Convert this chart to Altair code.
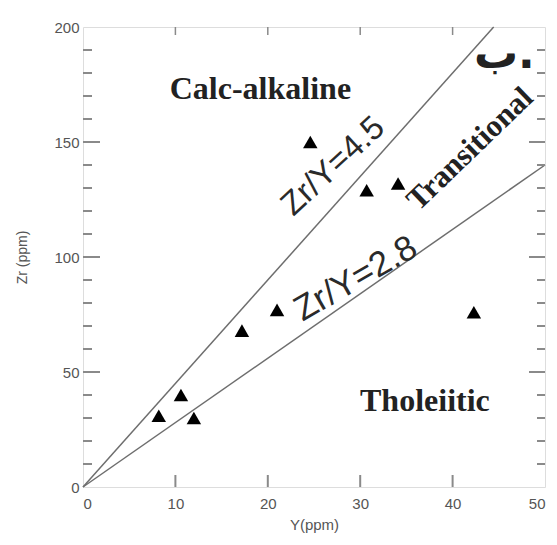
import altair as alt
import pandas as pd

# Sample analyses: Y (ppm) and Zr (ppm)
y_ppm = [8.2, 10.6, 12.0, 17.2, 21.0, 24.6, 30.7, 34.1, 42.3]
zr_ppm = [31, 40, 30, 68, 77, 150, 129, 132, 76]

# Discriminant ratio lines Zr/Y
ratios = [4.5, 2.8]
ratio_names = ["Zr/Y=4.5", "Zr/Y=2.8"]

X_MAX, Y_MAX = 50, 200
x_ticks = [0, 10, 20, 30, 40, 50]
y_ticks = [0, 50, 100, 150, 200]
x_inner_major = [10, 20, 30, 40]
y_inner_major = [50, 100, 150]
y_minor = [v for v in range(10, 200, 10) if v % 50 != 0]

# Field labels (anchored at the baseline centre)
field_labels = ["Calc-alkaline", "Tholeiitic"]
field_x = [19.2, 37.0]
field_y = [168.5, 33.0]

trans_label = "Transitional"
trans_x, trans_y = 42.6, 144.0

ratio_label_x = [27.8, 30.1]
ratio_label_y = [136.3, 86.5]
ratio_label_angle = [317, 330]
ratio_label_size = [33, 35]

panel_label = "ب."
panel_x, panel_y = 45.6, 182.0

W, H = 462, 460
GREY = "#8a8a8a"
TXT = "#555555"

xs = alt.Scale(domain=[0, X_MAX], nice=False, zero=True)
ys = alt.Scale(domain=[0, Y_MAX], nice=False, zero=True)

points = pd.DataFrame({"Y": y_ppm, "Zr": zr_ppm})

line_rows = []
for r, name in zip(ratios, ratio_names):
    x_end = min(X_MAX, Y_MAX / r)
    line_rows.append({"name": name, "Y": 0, "Zr": 0})
    line_rows.append({"name": name, "Y": x_end, "Zr": r * x_end})
lines_df = pd.DataFrame(line_rows)

base_axis_x = alt.Axis(values=x_ticks, ticks=False, domain=False, grid=False,
                       labelFont="Liberation Sans", labelFontSize=15,
                       labelColor=TXT, labelPadding=9, title="Y(ppm)",
                       titleFont="Liberation Sans", titleFontSize=15,
                       titleFontWeight="normal", titleColor=TXT, titlePadding=6)
base_axis_y = alt.Axis(values=y_ticks, ticks=False, domain=False, grid=False,
                       labelFont="Liberation Sans", labelFontSize=15,
                       labelColor=TXT, labelPadding=4, title="Zr (ppm)",
                       titleFont="Liberation Sans", titleFontSize=14,
                       titleFontWeight="normal", titleColor=TXT, titlePadding=24)

ratio_lines = alt.Chart(lines_df).mark_line(color="#6e6e6e", strokeWidth=1.5).encode(
    x=alt.X("Y:Q", scale=xs, axis=base_axis_x),
    y=alt.Y("Zr:Q", scale=ys, axis=base_axis_y),
    detail="name:N",
)

tri = alt.Chart(points).mark_point(shape="triangle-up", filled=True, color="black",
                                   size=210, opacity=1).encode(
    x=alt.X("Y:Q", scale=xs), y=alt.Y("Zr:Q", scale=ys))

# Inward tick marks on all four sides of the frame
ymin_df = pd.DataFrame({"v": y_minor})
ymaj_df = pd.DataFrame({"v": y_inner_major})
xmaj_df = pd.DataFrame({"v": x_inner_major})

left_minor = alt.Chart(ymin_df).mark_rule(color=GREY, strokeWidth=2).encode(
    y=alt.Y("v:Q", scale=ys), x=alt.value(0), x2=alt.value(9))
left_major = alt.Chart(ymaj_df).mark_rule(color=GREY, strokeWidth=2).encode(
    y=alt.Y("v:Q", scale=ys), x=alt.value(0), x2=alt.value(17))
right_minor = alt.Chart(ymin_df).mark_rule(color=GREY, strokeWidth=2).encode(
    y=alt.Y("v:Q", scale=ys), x=alt.value(W), x2=alt.value(W - 8))
right_major = alt.Chart(ymaj_df).mark_rule(color=GREY, strokeWidth=2).encode(
    y=alt.Y("v:Q", scale=ys), x=alt.value(W), x2=alt.value(W - 16))
bottom_major = alt.Chart(xmaj_df).mark_rule(color=GREY, strokeWidth=2).encode(
    x=alt.X("v:Q", scale=xs), y=alt.value(H), y2=alt.value(H - 12))
top_major = alt.Chart(xmaj_df).mark_rule(color=GREY, strokeWidth=1.5).encode(
    x=alt.X("v:Q", scale=xs), y=alt.value(0), y2=alt.value(8))

fields = alt.Chart(pd.DataFrame({"t": field_labels, "x": field_x, "y": field_y})).mark_text(
    font="Liberation Serif", fontSize=32, fontWeight="bold", color="#222222",
    baseline="alphabetic"
).encode(x=alt.X("x:Q", scale=xs), y=alt.Y("y:Q", scale=ys), text="t:N")

trans = alt.Chart(pd.DataFrame({"t": [trans_label], "x": [trans_x], "y": [trans_y]})).mark_text(
    font="Liberation Serif", fontSize=31, fontWeight="bold", color="#222222", angle=316,
    baseline="alphabetic"
).encode(x=alt.X("x:Q", scale=xs), y=alt.Y("y:Q", scale=ys), text="t:N")

ratio_text_layers = []
for name, lx, ly, ang, fs in zip(ratio_names, ratio_label_x, ratio_label_y,
                                 ratio_label_angle, ratio_label_size):
    ratio_text_layers.append(
        alt.Chart(pd.DataFrame({"t": [name], "x": [lx], "y": [ly]})).mark_text(
            font="Liberation Sans", fontSize=fs, color="#2a2a2a", angle=ang,
            baseline="alphabetic"
        ).encode(x=alt.X("x:Q", scale=xs), y=alt.Y("y:Q", scale=ys), text="t:N")
    )

panel = alt.Chart(pd.DataFrame({"t": [panel_label], "x": [panel_x], "y": [panel_y]})).mark_text(
    font="DejaVu Sans", fontSize=44, fontWeight="bold", color="#222222",
    baseline="alphabetic"
).encode(x=alt.X("x:Q", scale=xs), y=alt.Y("y:Q", scale=ys), text="t:N")

chart = alt.layer(
    ratio_lines, left_minor, left_major, right_minor, right_major, bottom_major, top_major,
    tri, fields, trans, *ratio_text_layers, panel
).properties(
    width=W, height=H,
    autosize=alt.AutoSizeParams(type="none"),
    padding={"left": 83, "top": 27, "right": 12, "bottom": 58},
).configure_view(stroke=GREY, strokeWidth=2.5).configure(background="white")

chart.save("out.html", embed_options={"renderer": "svg", "actions": False})
